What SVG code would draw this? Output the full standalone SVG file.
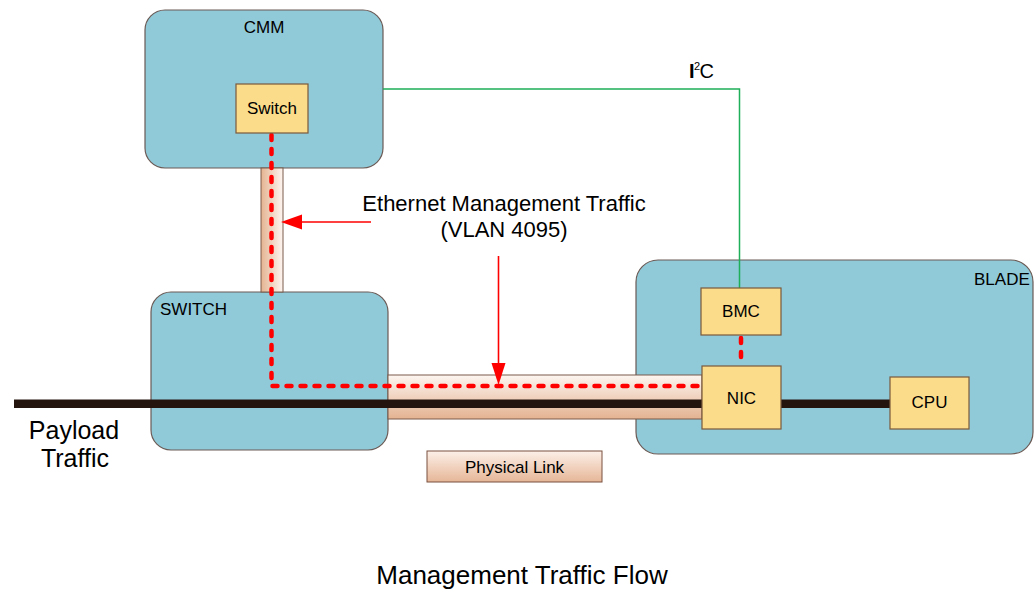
<svg xmlns="http://www.w3.org/2000/svg" width="1034" height="591" viewBox="0 0 1034 591">
  <defs>
    <linearGradient id="linkV" x1="0" y1="0" x2="1" y2="0">
      <stop offset="0" stop-color="#e4b391"/>
      <stop offset="1" stop-color="#fdf6f1"/>
    </linearGradient>
    <linearGradient id="linkH" x1="0" y1="0" x2="0" y2="1">
      <stop offset="0" stop-color="#fdf6f1"/>
      <stop offset="0.5" stop-color="#f0d3c0"/>
      <stop offset="1" stop-color="#e4b391"/>
    </linearGradient>
    <linearGradient id="legend" x1="0" y1="0" x2="0" y2="1">
      <stop offset="0" stop-color="#fcf0e8"/>
      <stop offset="1" stop-color="#e6b697"/>
    </linearGradient>
  </defs>
  <style>
    .module { fill: #90c9d8; stroke: #6b5a55; stroke-width: 1.2; }
    .chip { fill: #fbdc8b; stroke: #7a5a3c; stroke-width: 1.2; }
    .link { stroke: #7a5a4a; stroke-width: 1; }
    .mgmt { fill: none; stroke: #ff0000; stroke-width: 4.5; stroke-dasharray: 5 9; stroke-linecap: round; stroke-linejoin: round; }
    .payload { stroke: #25150f; stroke-width: 8.5; fill: none; }
    .note { fill: none; stroke: #ff0000; stroke-width: 1.6; }
    .tip { fill: #ff0000; }
    text { font-family: "Liberation Sans", Arial, sans-serif; fill: #000; }
    .lbl { font-size: 17px; }
    .mid { text-anchor: middle; }
  </style>

  <!-- chassis modules -->
  <g id="cmm">
    <rect class="module" x="145" y="10" width="238" height="158" rx="20"/>
    <text class="lbl mid" x="264" y="33">CMM</text>
  </g>
  <g id="switch-module">
    <rect class="module" x="151" y="292" width="237" height="158" rx="20"/>
    <text class="lbl" x="160" y="315">SWITCH</text>
  </g>
  <g id="blade">
    <rect class="module" x="636" y="260" width="397" height="194" rx="22"/>
    <text class="lbl" x="974" y="285">BLADE</text>
  </g>

  <!-- physical links -->
  <g id="physical-links">
    <rect class="link" x="261" y="168" width="22" height="124" fill="url(#linkV)"/>
    <rect class="link" x="388" y="375" width="314" height="44" fill="url(#linkH)"/>
  </g>

  <g id="connectors">
    <!-- I2C bus -->
    <polyline points="383,89 739.5,89 739.5,288" fill="none" stroke="#1faf5a" stroke-width="1.5"/>
    <!-- payload path -->
    <line class="payload" x1="14" y1="403.7" x2="890" y2="403.7"/>
    <!-- management VLAN path -->
    <path class="mgmt" d="M271.5,135 V386 H700"/>
    <path class="mgmt" d="M741,338 V364"/>
    <!-- callout arrows -->
    <line class="note" x1="371" y1="222" x2="300" y2="222"/>
    <polygon class="tip" points="281,222 302,214.5 302,229.5"/>
    <line class="note" x1="498.5" y1="256" x2="498.5" y2="366"/>
    <polygon class="tip" points="498.5,385 491.5,363 505.5,363"/>
  </g>

  <!-- devices -->
  <g id="cmm-switch">
    <rect class="chip" x="236" y="84" width="72" height="49"/>
    <text class="lbl mid" x="272" y="113.5">Switch</text>
  </g>
  <g id="bmc">
    <rect class="chip" x="701" y="288" width="80" height="47"/>
    <text class="lbl mid" x="741" y="317">BMC</text>
  </g>
  <g id="nic">
    <rect class="chip" x="702" y="366" width="79" height="63"/>
    <text class="lbl mid" x="741.5" y="403.5">NIC</text>
  </g>
  <g id="cpu">
    <rect class="chip" x="890" y="377" width="79" height="52"/>
    <text class="lbl mid" x="929.5" y="408">CPU</text>
  </g>

  <!-- legend -->
  <g id="legend-physical-link">
    <rect x="427" y="451" width="175" height="31" fill="url(#legend)" stroke="#7a5040" stroke-width="1"/>
    <text class="mid" x="514.5" y="473" font-size="17">Physical Link</text>
  </g>

  <!-- labels -->
  <g id="labels">
    <text x="689" y="78" font-size="20"><tspan font-weight="bold">I</tspan><tspan x="694" y="70" font-size="11">2</tspan><tspan x="699.5" y="78">C</tspan></text>
    <text class="mid" x="504" y="211" font-size="22">Ethernet Management Traffic</text>
    <text class="mid" x="504" y="237" font-size="22">(VLAN 4095)</text>
    <text class="mid" x="74" y="439" font-size="25">Payload</text>
    <text class="mid" x="75" y="467" font-size="25">Traffic</text>
    <text class="mid" x="522" y="584" font-size="26">Management Traffic Flow</text>
  </g>
</svg>
